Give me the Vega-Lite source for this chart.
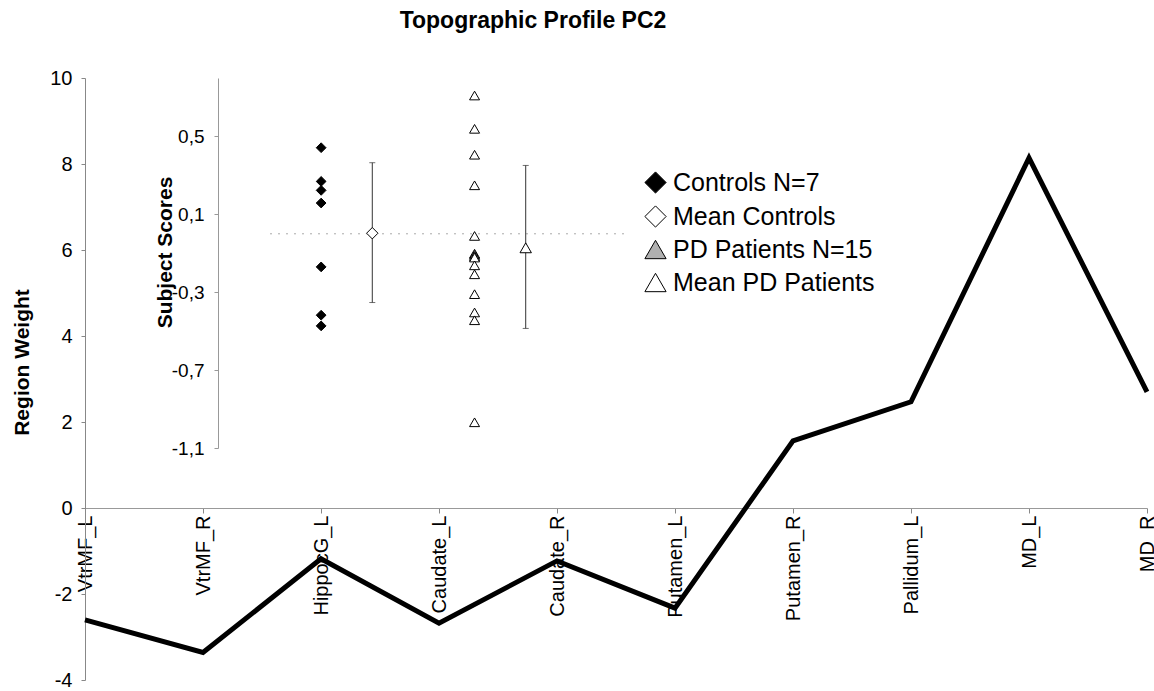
{
  "$schema": "https://vega.github.io/schema/vega-lite/v6.json",
  "width": 1062,
  "height": 602,
  "autosize": {"type": "none"},
  "padding": {"left": 85, "top": 78, "right": 7, "bottom": 11},
  "background": "white",
  "title": {"text": "Topographic Profile PC2", "fontSize": 23, "font": "Liberation Sans", "fontWeight": "bold", "color": "black", "anchor": "middle", "dx": -83, "offset": 35},
  "datasets": {
    "weights": [
      {"region": "VtrMF_L", "weight": -2.60},
      {"region": "VtrMF_R", "weight": -3.36},
      {"region": "HippocG_L", "weight": -1.18},
      {"region": "Caudate_L", "weight": -2.68},
      {"region": "Caudate_R", "weight": -1.23},
      {"region": "Putamen_L", "weight": -2.33},
      {"region": "Putamen_R", "weight": 1.56},
      {"region": "Pallidum_L", "weight": 2.47},
      {"region": "MD_L", "weight": 8.14},
      {"region": "MD_R", "weight": 2.70}
    ],
    "subjects": [
      {"series": "Controls N=7", "score": 0.442},
      {"series": "Controls N=7", "score": 0.269},
      {"series": "Controls N=7", "score": 0.223},
      {"series": "Controls N=7", "score": 0.158},
      {"series": "Controls N=7", "score": -0.170},
      {"series": "Controls N=7", "score": -0.418},
      {"series": "Controls N=7", "score": -0.473},
      {"series": "PD Patients N=15", "score": 0.710},
      {"series": "PD Patients N=15", "score": 0.539},
      {"series": "PD Patients N=15", "score": 0.406},
      {"series": "PD Patients N=15", "score": 0.249},
      {"series": "PD Patients N=15", "score": -0.011},
      {"series": "PD Patients N=15", "score": -0.102},
      {"series": "PD Patients N=15", "score": -0.108},
      {"series": "PD Patients N=15", "score": -0.115},
      {"series": "PD Patients N=15", "score": -0.122},
      {"series": "PD Patients N=15", "score": -0.162},
      {"series": "PD Patients N=15", "score": -0.208},
      {"series": "PD Patients N=15", "score": -0.310},
      {"series": "PD Patients N=15", "score": -0.404},
      {"series": "PD Patients N=15", "score": -0.444},
      {"series": "PD Patients N=15", "score": -0.968}
    ],
    "means": [
      {"series": "Mean Controls", "mean": 0.003, "lo": -0.353, "hi": 0.365},
      {"series": "Mean PD Patients", "mean": -0.072, "lo": -0.486, "hi": 0.351}
    ]
  },
  "layer": [
    {
      "data": {"name": "weights"},
      "mark": {"type": "line", "color": "black", "strokeWidth": 5, "strokeJoin": "miter"},
      "encoding": {
        "x": {
          "field": "region", "type": "nominal", "sort": null,
          "scale": {"type": "point", "padding": 0, "domain": ["VtrMF_L", "VtrMF_R", "HippocG_L", "Caudate_L", "Caudate_R", "Putamen_L", "Putamen_R", "Pallidum_L", "MD_L", "MD_R"]},
          "axis": {"orient": "bottom", "offset": -172, "title": null, "labelAngle": -90, "labelAlign": "right", "labelBaseline": "middle", "labelFontSize": 20, "labelPadding": 2, "labelOverlap": false, "labelFlush": false, "tickSize": 5, "tickColor": "#888", "domainColor": "#999", "grid": false}
        },
        "y": {
          "field": "weight", "type": "quantitative",
          "scale": {"domain": [-4, 10], "nice": false, "zero": false},
          "axis": {"orient": "left", "values": [-4, -2, 0, 2, 4, 6, 8, 10], "format": "d", "title": "Region Weight", "titleFontSize": 21, "titleFontWeight": "bold", "titleX": -57, "titleY": 284, "titleAngle": -90, "titleBaseline": "alphabetic", "titleAlign": "center", "labelFontSize": 20, "labelPadding": 9, "tickSize": 4, "tickColor": "#888", "domainColor": "#888", "grid": false}
        }
      }
    },
    {
      "layer": [
        {
          "data": {"values": [{}]},
          "mark": {"type": "rule", "color": "#aaa", "strokeWidth": 1, "strokeDash": [2, 6]},
          "encoding": {
            "x": {"datum": "lineStart", "type": "nominal", "scale": {"type": "point", "padding": 0, "range": [185, 543], "domain": ["lineStart", "Controls N=7", "Mean Controls", "gap", "PD Patients N=15", "Mean PD Patients", "pad", "lineEnd"]}, "axis": null},
            "x2": {"datum": "lineEnd"},
            "y": {"datum": 0, "type": "quantitative", "scale": {"domain": [-1.1, 0.8], "range": [370, 0], "nice": false, "zero": false},
              "axis": {"orient": "left", "offset": -133, "values": [-1.1, -0.7, -0.3, 0.1, 0.5], "format": ".1f", "title": "Subject Scores", "titleFontSize": 21, "titleFontWeight": "bold", "titleX": -47, "titleY": 174, "titleAngle": -90, "titleBaseline": "alphabetic", "titleAlign": "center", "labelFontSize": 19, "labelPadding": 10, "tickSize": 4, "tickColor": "#999", "domainColor": "#999", "grid": false}}
          }
        },
        {
          "data": {"name": "means"},
          "mark": {"type": "rule", "color": "#333", "strokeWidth": 1},
          "encoding": {
            "x": {"field": "series", "type": "nominal"},
            "y": {"field": "lo", "type": "quantitative"},
            "y2": {"field": "hi"}
          }
        },
        {
          "data": {"name": "means"},
          "mark": {"type": "tick", "color": "#333", "thickness": 1, "size": 6, "orient": "horizontal"},
          "encoding": {
            "x": {"field": "series", "type": "nominal"},
            "y": {"field": "lo", "type": "quantitative"}
          }
        },
        {
          "data": {"name": "means"},
          "mark": {"type": "tick", "color": "#333", "thickness": 1, "size": 6, "orient": "horizontal"},
          "encoding": {
            "x": {"field": "series", "type": "nominal"},
            "y": {"field": "hi", "type": "quantitative"}
          }
        },
        {
          "data": {"name": "subjects"},
          "transform": [{"filter": "datum.series === 'PD Patients N=15'"}],
          "mark": {"type": "point", "filled": true, "fill": "white", "strokeWidth": 1, "opacity": 1, "size": 100},
          "encoding": {
            "x": {"field": "series", "type": "nominal"},
            "y": {"field": "score", "type": "quantitative"},
            "shape": {"field": "series", "type": "nominal",
              "scale": {"domain": ["Controls N=7", "Mean Controls", "PD Patients N=15", "Mean PD Patients"], "range": ["diamond", "diamond", "triangle-up", "triangle-up"]},
              "legend": {"orient": "none", "legendX": 558, "legendY": 92, "title": null, "labelFontSize": 25, "labelLimit": 0, "symbolSize": 450, "rowPadding": 7, "labelOffset": 5, "symbolStrokeWidth": 1}},
            "stroke": {"field": "series", "type": "nominal",
              "scale": {"domain": ["Controls N=7", "Mean Controls", "PD Patients N=15", "Mean PD Patients"], "range": ["black", "black", "black", "black"]},
              "legend": {"orient": "none", "legendX": 558, "legendY": 92, "title": null, "labelFontSize": 25, "labelLimit": 0, "symbolSize": 450, "rowPadding": 7, "labelOffset": 5, "symbolStrokeWidth": 1}}
          }
        },
        {
          "data": {"name": "subjects"},
          "transform": [{"filter": "datum.series === 'Controls N=7'"}],
          "mark": {"type": "point", "filled": true, "strokeWidth": 1, "opacity": 1, "size": 95},
          "encoding": {
            "x": {"field": "series", "type": "nominal"},
            "y": {"field": "score", "type": "quantitative"},
            "shape": {"field": "series", "type": "nominal"},
            "stroke": {"field": "series", "type": "nominal"},
            "fill": {"field": "series", "type": "nominal",
              "scale": {"domain": ["Controls N=7", "Mean Controls", "PD Patients N=15", "Mean PD Patients"], "range": ["black", "white", "#b0b0b0", "white"]},
              "legend": {"orient": "none", "legendX": 558, "legendY": 92, "title": null, "labelFontSize": 25, "labelLimit": 0, "symbolSize": 450, "rowPadding": 7, "labelOffset": 5, "symbolStrokeWidth": 1}}
          }
        },
        {
          "data": {"name": "means"},
          "mark": {"type": "point", "filled": true, "strokeWidth": 1, "opacity": 1, "size": 130},
          "encoding": {
            "x": {"field": "series", "type": "nominal"},
            "y": {"field": "mean", "type": "quantitative"},
            "shape": {"field": "series", "type": "nominal"},
            "stroke": {"field": "series", "type": "nominal"},
            "fill": {"field": "series", "type": "nominal"}
          }
        }
      ]
    }
  ],
  "resolve": {"scale": {"x": "independent", "y": "independent"}, "axis": {"x": "independent", "y": "independent"}},
  "config": {
    "view": {"stroke": null},
    "font": "Liberation Sans",
    "axis": {"labelFont": "Liberation Sans", "titleFont": "Liberation Sans", "labelColor": "black", "titleColor": "black"},
    "legend": {"labelFont": "Liberation Sans", "labelColor": "black", "labelLimit": 0},
    "locale": {"number": {"decimal": ",", "thousands": ".", "grouping": [3], "currency": ["", "€"], "minus": "-"}}
  }
}
